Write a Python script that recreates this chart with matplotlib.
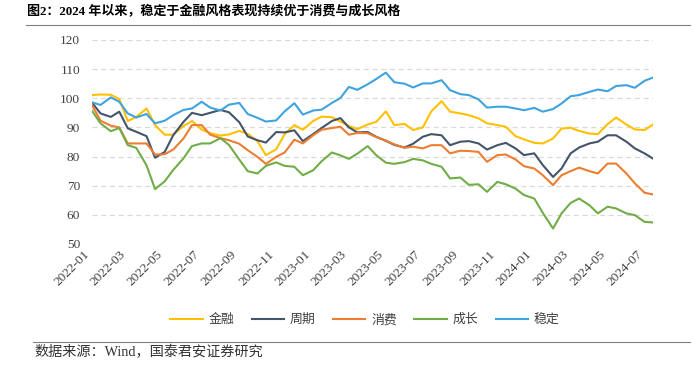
import matplotlib
matplotlib.use("Agg")
import matplotlib.pyplot as plt
import matplotlib.dates as mdates
import pandas as pd

plt.rcParams['font.family'] = ['Liberation Serif', 'Noto Sans CJK SC', 'DejaVu Sans']

# ---------------------------------------------------------
# data (semi-monthly points)
# ---------------------------------------------------------
dates = pd.date_range("2022-01-01", periods=62, freq="SMS")

finance = [101.1, 101.3, 101.2, 99.7, 92.2, 93.6, 96.5, 90.8, 87.5, 87.5,
           90.5, 92.2, 89.3, 88.0, 87.2, 87.6, 88.8, 87.8, 85.3, 80.5,
           82.5, 87.7, 90.8, 89.2, 92.2, 93.7, 93.5, 92.0, 90.5, 89.4,
           91.0, 91.9, 95.5, 90.8, 91.2, 89.1, 90.0, 95.5, 99.0, 95.4,
           94.8, 94.2, 93.1, 91.4, 90.8, 90.2, 87.0, 85.9, 84.7, 84.5,
           86.2, 89.6, 89.9, 88.8, 87.9, 87.7, 91.1, 93.4, 91.0, 89.3,
           89.1, 91.0]

cyclical = [98.5, 94.8, 93.6, 95.4, 89.7, 88.5, 87.0, 79.6, 81.6, 87.3,
            91.9, 95.0, 94.2, 95.0, 96.0, 95.2, 91.8, 86.9, 85.6, 84.8,
            88.4, 88.3, 89.0, 85.3, 87.7, 89.8, 92.2, 93.2, 90.0, 88.3,
            88.4, 86.8, 85.4, 84.0, 83.1, 84.4, 86.8, 87.7, 87.3, 83.9,
            85.1, 85.3, 84.5, 82.4, 83.9, 84.7, 82.8, 80.5, 81.1, 77.1,
            73.0, 75.9, 81.1, 83.1, 84.5, 85.1, 87.3, 87.3, 85.1, 82.8,
            81.1, 79.3]

consumer = [97.7, 92.3, 90.6, 90.0, 84.5, 84.5, 84.5, 80.7, 80.8, 82.4,
            86.2, 90.8, 90.8, 87.5, 86.3, 85.6, 84.4, 82.2, 79.9, 77.5,
            79.9, 81.4, 85.8, 84.5, 87.3, 89.2, 89.8, 90.2, 87.5, 88.1,
            88.0, 86.7, 85.5, 84.2, 83.0, 83.4, 82.8, 83.9, 83.9, 81.1,
            82.0, 81.9, 81.6, 78.2, 80.5, 80.7, 79.0, 76.7, 75.9, 73.6,
            70.2, 73.6, 75.0, 76.2, 75.0, 74.2, 77.6, 77.6, 74.2, 70.8,
            67.6, 67.0]

growth = [95.7, 91.4, 88.7, 89.8, 83.9, 83.0, 77.0, 68.8, 71.5, 75.4,
          79.4, 83.6, 84.5, 84.5, 86.3, 84.0, 79.0, 75.0, 74.2, 76.8,
          78.0, 76.8, 76.5, 73.6, 75.3, 78.4, 81.4, 80.4, 79.2, 81.0,
          83.6, 80.5, 77.9, 77.5, 78.1, 79.2, 78.7, 77.5, 76.5, 72.5,
          72.8, 70.3, 70.5, 67.9, 71.3, 70.5, 69.0, 66.8, 65.6, 60.7,
          55.3, 60.5, 64.1, 65.6, 63.3, 60.5, 62.8, 62.2, 60.5, 59.9,
          57.6, 57.4]

stable = [98.6, 97.7, 100.3, 98.8, 94.8, 93.4, 94.6, 91.4, 92.3, 94.2,
          96.0, 96.5, 98.8, 96.8, 95.8, 97.8, 98.4, 94.6, 93.3, 92.0,
          92.4, 95.5, 98.3, 94.4, 95.8, 96.1, 98.4, 100.1, 103.9, 102.9,
          104.8, 106.6, 108.8, 105.5, 105.0, 103.7, 105.1, 105.1, 106.2, 102.8,
          101.4, 101.1, 99.6, 96.8, 97.1, 97.1, 96.5, 95.9, 96.7, 95.4,
          96.3, 98.2, 100.7, 101.1, 102.2, 103.0, 102.4, 104.2, 104.5, 103.6,
          106.0, 107.1]

series = [("金融", finance, "#FFC000"),
          ("周期", cyclical, "#44546A"),
          ("消费", consumer, "#ED7D31"),
          ("成长", growth, "#70AD47"),
          ("稳定", stable, "#3FA3E0")]

# ---------------------------------------------------------
# figure
# ---------------------------------------------------------
fig = plt.figure(figsize=(6.95, 3.74), dpi=100)
ax = fig.add_axes([0.1324, 0.3476, 0.8072, 0.5455])

for name, vals, color in series:
    ax.plot(dates, vals, color=color, lw=1.5, label=name)

ax.set_ylim(50, 120)
ax.set_yticks(range(50, 121, 10))
ax.set_xlim(dates[0], dates[-1])
ax.xaxis.set_major_locator(mdates.MonthLocator(bymonth=[1, 3, 5, 7, 9, 11]))
ax.xaxis.set_major_formatter(mdates.DateFormatter("%Y-%m"))

ax.grid(axis="y", color="#D9D9D9", lw=0.9, linestyle=(0, (4, 3)))
ax.set_axisbelow(True)
for s in ax.spines.values():
    s.set_visible(False)
ax.tick_params(axis="both", length=0, labelsize=9.6, colors="#404040")
ax.tick_params(axis="y", pad=8.5)
ax.tick_params(axis="x", pad=3)
for lab in ax.get_xticklabels():
    lab.set_rotation(45)
    lab.set_ha("right")

leg = fig.legend(loc="center", bbox_to_anchor=(0.525, 0.145), ncol=5, frameon=False,
                 handlelength=2.5, handletextpad=0.45, columnspacing=1.35,
                 prop={"family": ["Noto Sans CJK SC"], "size": 9.3})
for t in leg.get_texts():
    t.set_color("#404040")

# title and source
fig.text(0.039, 0.968, "图2：2024 年以来，稳定于金融风格表现持续优于消费与成长风格",
         fontsize=9.4, fontweight="bold", va="center", ha="left",
         family=["Liberation Serif", "Noto Sans CJK SC"])
fig.add_artist(plt.Line2D([0.037, 0.993], [0.933, 0.933], color="#7F7F7F", lw=0.8))
fig.add_artist(plt.Line2D([0.047, 0.993], [0.086, 0.086], color="#7F7F7F", lw=0.8))
fig.text(0.05, 0.058, "数据来源：Wind，国泰君安证券研究", fontsize=10.2, va="center", ha="left",
         color="#333333", family=["Liberation Serif", "Noto Sans CJK SC"])

fig.savefig("out.png", dpi=100)
